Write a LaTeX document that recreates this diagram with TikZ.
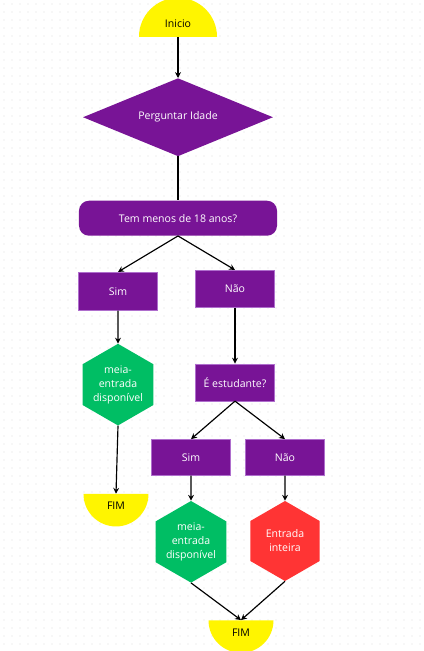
\documentclass[tikz,border=0pt]{standalone}
\usepackage{fontspec}
\setmainfont{Open Sans}
\usepackage{tikz}
\usetikzlibrary{shapes.geometric, arrows.meta, positioning, calc}
\definecolor{mypurple}{RGB}{120,20,150}
\definecolor{mylilac}{RGB}{175,110,205}
\definecolor{mygreen}{RGB}{0,190,100}
\definecolor{myred}{RGB}{255,52,52}
\definecolor{myyellow}{RGB}{255,245,0}
\definecolor{mydot}{RGB}{222,222,222}
\tikzset{
  box/.style={rectangle, draw=mylilac, fill=mypurple, text=white,
    minimum width=2.37cm, minimum height=1.11cm, inner sep=0pt,
    font=\fontsize{9}{11}\selectfont, line width=0.5pt},
  roundbox/.style={rectangle, fill=mypurple, text=white,
    minimum width=5.94cm, minimum height=1.05cm, inner sep=0pt,
    font=\fontsize{9}{11}\selectfont, rounded corners=0.3cm},
  decision/.style={diamond, aspect=2.44, fill=mypurple, text=white,
    minimum width=5.7cm, minimum height=2.34cm, inner sep=0pt,
    font=\fontsize{9}{11}\selectfont},
  hexa/.style={regular polygon, regular polygon sides=6, shape border rotate=30,
    minimum size=2.4cm, inner sep=0pt, text=white, align=center,
    font=\fontsize{9}{12}\selectfont},
  greenhex/.style={hexa, fill=mygreen},
  redhex/.style={hexa, fill=myred},
  startcap/.style={semicircle, fill=myyellow, inner sep=0pt,
    minimum width=2.34cm, font=\fontsize{9}{11}\selectfont},
  endcap/.style={semicircle, shape border rotate=180, fill=myyellow, inner sep=0pt,
    minimum width=1.95cm, font=\fontsize{9}{11}\selectfont},
  arrow/.style={-{Stealth[length=5pt,width=5pt]}, line width=1pt, color=black},
  line/.style={line width=1pt, color=black}
}
\begin{document}
\begin{tikzpicture}[x=0.03cm, y=-0.03cm]
  \useasboundingbox[fill=white] (0,0) rectangle (423,651);
  % dotted background
  \foreach \gx in {4,12,...,420}
    \foreach \gy in {4,12,...,648}
      \fill[mydot] (\gx,\gy) circle[radius=0.5pt];

  % Top part
  \node[startcap, anchor=chord center] (ini) at (178,37) {Inicio};
  \node[decision, below=1.23cm of ini.chord center] (ask) {Perguntar Idade};
  \node[roundbox, below=1.32cm of ask] (q18) {Tem menos de 18 anos?};

  % Left branch
  \node[box, below=1.08cm of q18, xshift=-1.8cm, minimum height=1.14cm] (sim1) {Sim};
  \node[greenhex, below=0.99cm of sim1] (meia1) {meia-\\entrada\\disponível};
  \node[endcap, below=2.04cm of meia1, anchor=chord center, xshift=-0.06cm] (fim1) {FIM};

  % Right branch
  \node[box, below=1.02cm of q18, xshift=1.71cm] (nao1) {Não};
  \node[box, below=1.68cm of nao1] (est) {É estudante?};
  \node[box, below=1.14cm of est, xshift=-1.32cm, minimum height=1.08cm] (sim2) {Sim};
  \node[box, below=1.14cm of est, xshift=1.5cm, minimum height=1.08cm] (nao2) {Não};
  \node[greenhex, below=0.75cm of sim2] (meia2) {meia-\\entrada\\disponível};
  \node[redhex, below=0.75cm of nao2] (inteira) {Entrada\\inteira};
  \node[endcap, anchor=chord center] (fim2) at ($(meia2.south)!0.5!(inteira.south) + (3,38)$) {FIM};

  % Paths
  \draw[arrow] (ini.chord center) -- (ask.north);
  \draw[line] (ask.south) -- (q18.north);
  \draw[arrow] (q18.south) -- (sim1.north);
  \draw[arrow] (q18.south) -- (nao1.north);
  \draw[arrow] (sim1) -- (meia1);
  \draw[arrow] (meia1.south) -- (fim1.chord center);
  \draw[arrow] (nao1) -- (est);
  \draw[arrow] (est.south) -- (sim2.north);
  \draw[arrow] (est.south) -- (nao2.north);
  \draw[arrow] (sim2) -- (meia2);
  \draw[arrow] (nao2) -- (inteira);
  \draw[arrow] (meia2.south) -- (fim2.chord center);
  \draw[arrow] (inteira.south) -- (fim2.chord center);
\end{tikzpicture}
\end{document}
